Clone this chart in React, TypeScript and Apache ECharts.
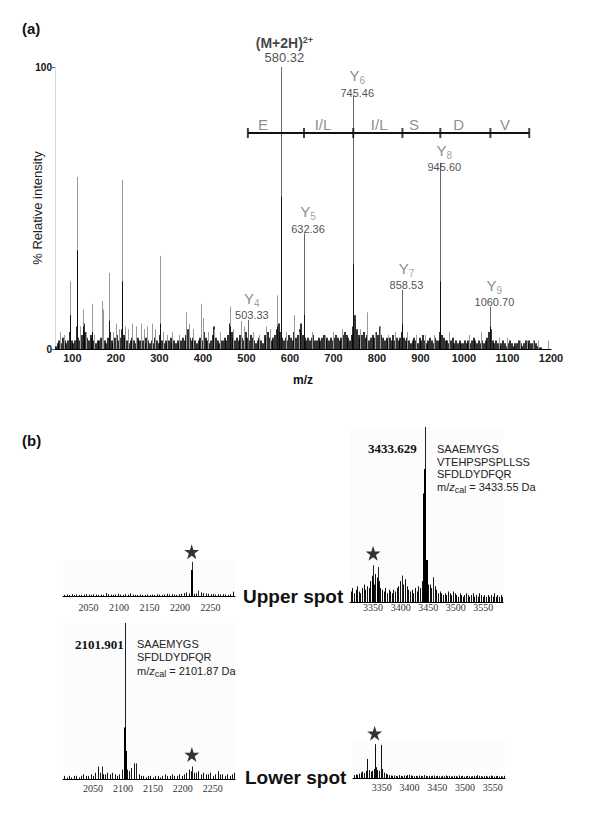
import React, { useEffect, useRef } from "react";
import * as echarts from "echarts";

const SANS = "'Liberation Sans', Arial, Helvetica, sans-serif";
const SERIF = "'Liberation Serif', 'Times New Roman', serif";

// ---------------- Panel (a): MS/MS spectrum ----------------
const aTickLabels = [100, 200, 300, 400, 500, 600, 700, 800, 900, 1000, 1100, 1200];
const precursorMz = 580.32;
const precursorInt = 100;
const yIonNumbers = ["4", "5", "6", "7", "8", "9"];
const yIonMz = [503.33, 632.36, 745.46, 858.53, 945.6, 1060.7];
const yIonInt = [10.3, 41, 89.7, 21, 66, 15];
const yIonLabelGap = [-3, -3, -4, -3, -12, -3];
const ladderBounds = [503.33, 632.36, 745.46, 858.53, 945.6, 1060.7, 1150];
const ladderLevel = 76.6;
const residues = ["E", "I/L", "I/L", "S", "D", "V"];
const residueMz = [538, 676, 805, 885, 988, 1094];

const minorPeaksA: [number, number][] = [
  [72, 6], [80, 5], [94, 24], [110, 61], [118, 8], [125, 14], [131, 6], [144, 16], [150, 5],
  [167, 17], [171, 14], [185, 27], [193, 6], [200, 9], [206, 7], [213, 60], [220, 8], [228, 7],
  [238, 9], [247, 8], [257, 9], [265, 7], [272, 8], [282, 9], [290, 7], [301, 33], [308, 6],
  [318, 5], [330, 6], [345, 5], [362, 13], [368, 9], [378, 7], [395, 16], [401, 11], [412, 6],
  [425, 7], [440, 6], [462, 15], [470, 7], [488, 10], [495, 8], [515, 6], [528, 5], [545, 8],
  [555, 7], [570, 19], [590, 6], [610, 12], [620, 6], [650, 6], [680, 5], [700, 6], [720, 7],
  [760, 7], [777, 13], [795, 6], [807, 8], [825, 5], [841, 6], [870, 6], [890, 5], [910, 5],
  [930, 5], [966, 6], [1011, 5], [1039, 6], [1080, 4], [1100, 4], [1129, 3], [1145, 3],
  [1158, 3], [1170, 3], [1193, 3],
];
const darkCoresA: [number, number][] = [
  [94, 12], [110, 35], [125, 8], [144, 6], [185, 10], [213, 24], [301, 9], [462, 8], [570, 8],
  [580.32, 54], [632.36, 12], [745.46, 30], [858.53, 9], [945.6, 24], [1060.7, 8],
];
const noiseStartA = 62;
const noiseStepA = 4;
const noiseA = [
  1, 2, 3, 2, 4, 3, 2, 3, 6, 3, 2, 3, 8, 4, 3, 5, 9, 6, 4, 3, 5, 4, 3, 2, 3,
  3, 4, 5, 3, 2, 4, 6, 3, 2, 4, 5, 3, 4, 7, 5, 4, 3, 2, 3, 4, 3, 2, 4, 3, 3,
  3, 2, 4, 3, 2, 3, 2, 4, 3, 2, 5, 3, 2, 3, 2, 3, 4, 2, 3, 2, 3, 2, 3, 4, 3,
  5, 7, 4, 3, 4, 3, 2, 3, 4, 3, 6, 4, 3, 2, 3, 5, 8, 4, 3, 2, 3, 3, 4, 3, 5,
  9, 6, 4, 3, 4, 3, 5, 4, 3, 6, 4, 3, 5, 4, 3, 2, 3, 4, 3, 2, 5, 4, 6, 4, 3,
  4, 5, 7, 9, 6, 4, 3, 4, 3, 5, 4, 3, 6, 4, 5, 7, 9, 5, 4, 3, 4, 3, 4, 5, 3,
  3, 4, 3, 4, 5, 3, 4, 3, 4, 3, 4, 5, 4, 3, 4, 5, 6, 5, 4, 3, 5, 8, 12, 7, 5,
  4, 5, 6, 4, 5, 3, 4, 5, 4, 6, 5, 8, 5, 4, 3, 4, 3, 4, 3, 5, 3, 4, 3, 4, 6,
  4, 3, 4, 3, 2, 3, 4, 3, 2, 4, 3, 5, 3, 2, 3, 4, 3, 2, 4, 3, 3, 6, 5, 4, 3,
  3, 2, 3, 4, 2, 3, 2, 3, 2, 2, 3, 2, 3, 2, 3, 4, 3, 2, 3, 2, 3, 2, 3, 4, 6,
  7, 3, 2, 3, 2, 1, 2, 3, 2, 1, 2, 3, 2, 1, 2, 2, 3, 2, 1, 2, 3, 2, 3, 2, 2,
  3, 2, 1, 0.5, 0.5,
];

// ---------------- Panel (b): MALDI spectra ----------------
// Upper spot, low mass window
const ulTicks = [2050, 2100, 2150, 2200, 2250];
const ulPeaks: [number, number][] = [[2219, 95], [2230, 14]];
const ulCore: [number, number][] = [[2219, 72]];
const ulStar: [number, number] = [2219, 95];
const ulNoiseStart = 2010;
const ulNoiseStep = 4;
const ulNoise = [
  3, 4, 3, 5, 3, 4, 3, 3, 4, 5,
  4, 3, 5, 4, 3, 4, 3, 8, 5, 4,
  3, 4, 6, 4, 3, 5, 4, 7, 4, 3,
  3, 4, 3, 3, 4, 3, 4, 3, 5, 4,
  3, 4, 6, 4, 5, 4, 3, 5, 6, 8,
  10, 7, 8, 6, 7, 15, 10, 8, 7, 6,
  5, 6, 4, 5, 4, 5, 4, 3, 5, 12,
];
// Upper spot, high mass window
const urTicks = [3350, 3400, 3450, 3500, 3550];
const urPeaks: [number, number][] = [[3444, 100], [3350, 21], [3359, 20], [3403, 15], [3459, 14]];
const urCore: [number, number][] = [[3442, 40], [3443, 62], [3444, 76], [3445, 50], [3447, 24], [3350, 12], [3359, 11]];
const urStar: [number, number] = [3350, 21];
const urNoiseStart = 3309;
const urNoiseStep = 3;
const urNoise = [
  6, 8, 5, 7, 9, 6, 5, 8, 10, 7, 9, 8,
  12, 15, 10, 16, 14, 12, 8, 7, 6, 8, 5, 7,
  6, 5, 7, 6, 8, 9, 12, 15, 10, 13, 9, 7,
  6, 7, 5, 8, 6, 9, 8, 12, 12, 15, 12, 10,
  10, 8, 14, 9, 7, 5, 6, 5, 4, 5, 4, 6,
  5, 4, 6, 5, 4, 3, 5, 4, 3, 4, 5, 4,
  3, 4, 5, 3, 4, 3, 5, 4, 3, 4, 3, 4,
  3, 4, 3, 5, 3, 4, 3, 4, 3,
];
// Lower spot, low mass window
const llTicks = [2050, 2100, 2150, 2200, 2250];
const llPeaks: [number, number][] = [[2104, 100], [2122, 10], [2065, 8], [2215, 8]];
const llCore: [number, number][] = [[2104, 33], [2105, 18], [2103, 12]];
const llStar: [number, number] = [2215, 8];
const llNoiseStart = 2002;
const llNoiseStep = 4;
const llNoise = [
  2, 1, 2, 1, 2, 2, 1, 2, 3, 2,
  2, 3, 2, 4, 8, 4, 3, 3, 4, 3,
  4, 3, 2, 3, 6, 12, 6, 5, 7, 10,
  4, 3, 2, 2, 1, 2, 2, 1, 2, 2,
  1, 2, 3, 2, 2, 3, 2, 2, 3, 2,
  3, 4, 6, 5, 4, 4, 5, 3, 4, 3,
  3, 4, 2, 3, 5, 3, 3, 2, 3, 2,
  3, 4,
];
// Lower spot, high mass window
const lrTicks = [3350, 3400, 3450, 3500, 3550];
const lrPeaks: [number, number][] = [[3323, 53], [3337, 94], [3348, 92]];
const lrStar: [number, number] = [3337, 94];
const lrNoiseStart = 3300;
const lrNoiseStep = 3;
const lrNoise = [
  8, 10, 9, 12, 15, 18, 14, 20, 25, 22, 18, 20,
  25, 30, 22, 20, 28, 25, 15, 12, 10, 8, 7, 6,
  7, 6, 5, 8, 6, 5, 7, 6, 8, 9, 7, 6,
  5, 6, 5, 7, 6, 5, 8, 6, 5, 6, 5, 6,
  7, 5, 6, 5, 4, 6, 5, 7, 5, 6, 4, 5,
  6, 5, 4, 7, 5, 6, 4, 5, 6, 5, 4, 5,
  6, 5, 8, 6, 5, 4, 5, 6, 4, 5, 7, 5,
  4, 5, 6, 4, 5, 4, 6,
];

const STAR =
  "path://M50,0 L61.2,34.5 L97.6,34.5 L68.2,55.9 L79.4,90.5 L50,69.1 L20.6,90.5 L31.8,55.9 L2.4,34.5 L38.8,34.5 Z";

const plain = (v: number) => String(v);

function seq(start: number, step: number, vals: number[]): [number, number][] {
  return vals.map((v, i) => [start + i * step, v]);
}

function sticks(idx: number, data: [number, number][], color: string, width: number) {
  return {
    type: "custom",
    xAxisIndex: idx,
    yAxisIndex: idx,
    silent: true,
    data,
    encode: { x: 0, y: 1 },
    renderItem: (_p: any, api: any) => {
      const p0 = api.coord([api.value(0), 0]);
      const p1 = api.coord([api.value(0), api.value(1)]);
      const x = width === 1 ? Math.round(p0[0]) + 0.5 : Math.round(p0[0]);
      return {
        type: "line",
        shape: { x1: x, y1: p0[1], x2: x, y2: p1[1] },
        style: { stroke: color, lineWidth: width },
      };
    },
  };
}

function starSeries(idx: number, pt: [number, number], off: number) {
  return {
    type: "scatter",
    xAxisIndex: idx,
    yAxisIndex: idx,
    clip: false,
    silent: true,
    symbol: STAR,
    symbolSize: 15,
    symbolOffset: [0, off],
    itemStyle: { color: "#000" },
    data: [pt],
  };
}

function bXAxis(idx: number, min: number, max: number, ticks: number[], margin: number) {
  return {
    gridIndex: idx,
    type: "value",
    min,
    max,
    axisLine: { show: true, onZero: false, lineStyle: { color: "#000", width: 1 } },
    axisTick: { show: false },
    splitLine: { show: false },
    axisLabel: {
      customValues: ticks,
      formatter: plain,
      fontFamily: SERIF,
      fontSize: 10,
      color: "#333",
      margin,
    },
  };
}

function bYAxis(idx: number) {
  return { gridIndex: idx, type: "value", min: 0, max: 100, show: false };
}

export default function App() {
  const ref = useRef<HTMLDivElement>(null);
  useEffect(() => {
    if (!ref.current) return;
    const chart = echarts.init(ref.current, null, { renderer: "svg" });

    const ionLabels = yIonMz.map((mz, i) => ({
      value: [mz, yIonInt[i]],
      label: {
        distance: yIonLabelGap[i],
        formatter: `{y|Y}{s|${yIonNumbers[i]}}\n{n|${mz.toFixed(2)}}`,
      },
    }));

    const ladderMid = residueMz.map((mz, i) => ({ value: [mz, ladderLevel], label: { formatter: residues[i] } }));

    const bgGrid = { show: true, backgroundColor: "#fcfcfc", borderWidth: 0 };
    const richMz = {
      a: { font: `11px ${SANS}`, fill: "#222", lineHeight: 14 },
      i: { font: `italic 11px ${SANS}`, fill: "#222", lineHeight: 14 },
      s: { font: `9px ${SANS}`, fill: "#222", lineHeight: 14, verticalAlign: "bottom" },
    };

    const option: any = {
      animation: false,
      backgroundColor: "#fff",
      grid: [
        { left: 55, top: 67, width: 496, height: 282 },
        { left: 63, top: 560, width: 172, height: 36, ...bgGrid },
        { left: 350, top: 427, width: 153, height: 175, ...bgGrid },
        { left: 63, top: 623, width: 172, height: 156, ...bgGrid },
        { left: 353, top: 742, width: 152, height: 36, ...bgGrid },
      ],
      xAxis: [
        {
          gridIndex: 0,
          type: "value",
          min: 60,
          max: 1200,
          axisLine: { show: true, onZero: false, lineStyle: { color: "#000", width: 1 } },
          axisTick: { show: false },
          splitLine: { show: false },
          axisLabel: {
            customValues: aTickLabels,
            formatter: plain,
            fontFamily: SANS,
            fontWeight: "bold",
            fontSize: 11,
            color: "#222",
            margin: 3,
          },
          name: "m/z",
          nameLocation: "middle",
          nameGap: 25,
          nameMoveOverlap: false,
          nameTextStyle: { fontFamily: SANS, fontWeight: "bold", fontSize: 12, color: "#111" },
        },
        bXAxis(1, 2008, 2290, ulTicks, 6),
        bXAxis(2, 3308, 3586, urTicks, 0),
        bXAxis(3, 2000, 2287, llTicks, 4),
        bXAxis(4, 3298, 3572, lrTicks, 4),
      ],
      yAxis: [
        {
          gridIndex: 0,
          type: "value",
          min: 0,
          max: 100,
          interval: 100,
          axisLine: { show: true, lineStyle: { color: "#dadada", width: 1 } },
          axisTick: { show: true, length: 3, lineStyle: { color: "#666" } },
          splitLine: { show: false },
          axisLabel: { fontFamily: SANS, fontWeight: "bold", fontSize: 10, color: "#111", margin: 3 },
          name: "% Relative intensity",
          nameLocation: "middle",
          nameGap: 11,
          nameMoveOverlap: false,
          nameTextStyle: { fontFamily: SANS, fontSize: 13, color: "#222" },
        },
        bYAxis(1),
        bYAxis(2),
        bYAxis(3),
        bYAxis(4),
      ],
      series: [
        // panel (a)
        sticks(0, seq(noiseStartA, noiseStepA, noiseA), "#000", 1.6),
        sticks(0, minorPeaksA, "#9a9a9a", 1),
        sticks(0, yIonMz.map((m, i) => [m, yIonInt[i]] as [number, number]), "#666", 1),
        sticks(0, [[precursorMz, precursorInt]], "#666", 1),
        sticks(0, darkCoresA, "#111", 1),
        {
          type: "line",
          xAxisIndex: 0,
          yAxisIndex: 0,
          silent: true,
          symbol: "none",
          lineStyle: { color: "#111", width: 2 },
          data: [
            [ladderBounds[0], ladderLevel],
            [ladderBounds[ladderBounds.length - 1], ladderLevel],
          ],
        },
        {
          type: "scatter",
          xAxisIndex: 0,
          yAxisIndex: 0,
          silent: true,
          symbol: "rect",
          symbolSize: [2, 10],
          itemStyle: { color: "#111" },
          data: ladderBounds.map((m) => [m, ladderLevel]),
        },
        {
          type: "scatter",
          xAxisIndex: 0,
          yAxisIndex: 0,
          silent: true,
          symbolSize: 1,
          itemStyle: { color: "rgba(0,0,0,0)" },
          label: {
            show: true,
            position: "top",
            distance: 0,
            fontFamily: SANS,
            fontSize: 15,
            color: "#707070",
          },
          data: ladderMid,
        },
        {
          type: "scatter",
          xAxisIndex: 0,
          yAxisIndex: 0,
          silent: true,
          symbolSize: 1,
          itemStyle: { color: "rgba(0,0,0,0)" },
          label: {
            show: true,
            position: "top",
            offset: [4, 0],
            align: "center",
            rich: {
              y: { fontFamily: SANS, fontSize: 15, lineHeight: 20, color: "#6a6a6a" },
              s: { fontFamily: SANS, fontSize: 10, lineHeight: 20, color: "#888", verticalAlign: "bottom" },
              n: { fontFamily: SANS, fontSize: 11, lineHeight: 14, color: "#222" },
            },
          },
          data: ionLabels,
        },
        {
          type: "scatter",
          xAxisIndex: 0,
          yAxisIndex: 0,
          silent: true,
          symbolSize: 1,
          itemStyle: { color: "rgba(0,0,0,0)" },
          label: {
            show: true,
            position: "top",
            distance: 1.5,
            offset: [3, 0],
            formatter: `{b|(M+2H)}{p|2+}\n{n|${precursorMz.toFixed(2)}}`,
            rich: {
              b: { fontFamily: SANS, fontSize: 14, fontWeight: "bold", lineHeight: 15, color: "#111" },
              p: { fontFamily: SANS, fontSize: 9, fontWeight: "bold", lineHeight: 15, verticalAlign: "top", color: "#111" },
              n: { fontFamily: SANS, fontSize: 13, lineHeight: 15, color: "#222" },
            },
          },
          data: [[precursorMz, precursorInt]],
        },
        // panel (b) upper-left
        sticks(1, seq(ulNoiseStart, ulNoiseStep, ulNoise), "#111", 1),
        sticks(1, ulPeaks, "#333", 1),
        sticks(1, ulCore, "#000", 2),
        starSeries(1, ulStar, -10),
        // upper-right
        sticks(2, seq(urNoiseStart, urNoiseStep, urNoise), "#111", 1),
        sticks(2, urPeaks, "#222", 1),
        sticks(2, urCore, "#000", 2),
        starSeries(2, urStar, -12),
        // lower-left
        sticks(3, seq(llNoiseStart, llNoiseStep, llNoise), "#111", 1),
        sticks(3, llPeaks, "#222", 1),
        sticks(3, llCore, "#000", 2),
        starSeries(3, llStar, -12),
        // lower-right
        sticks(4, seq(lrNoiseStart, lrNoiseStep, lrNoise), "#111", 1),
        sticks(4, lrPeaks, "#111", 1),
        starSeries(4, lrStar, -11),
      ],
      graphic: [
        { type: "text", x: 22, y: 28, style: { text: "(a)", font: `bold 15px ${SANS}`, fill: "#111", textVerticalAlign: "middle" } },
        { type: "text", x: 22, y: 440, style: { text: "(b)", font: `bold 15px ${SANS}`, fill: "#111", textVerticalAlign: "middle" } },
        { type: "text", x: 243, y: 596, style: { text: "Upper spot", font: `bold 19px ${SANS}`, fill: "#111", textVerticalAlign: "middle" } },
        { type: "text", x: 245, y: 777, style: { text: "Lower spot", font: `bold 19px ${SANS}`, fill: "#111", textVerticalAlign: "middle" } },
        { type: "text", x: 368, y: 448, style: { text: "3433.629", font: `bold 13px ${SERIF}`, fill: "#111", textVerticalAlign: "middle" } },
        { type: "text", x: 437, y: 449, style: { text: "SAAEMYGS", font: `11px ${SANS}`, fill: "#222", textVerticalAlign: "middle" } },
        { type: "text", x: 437, y: 461.5, style: { text: "VTEHPSPSPLLSS", font: `11px ${SANS}`, fill: "#222", textVerticalAlign: "middle" } },
        { type: "text", x: 437, y: 474, style: { text: "SFDLDYDFQR", font: `11px ${SANS}`, fill: "#222", textVerticalAlign: "middle" } },
        { type: "text", x: 437, y: 480, style: { text: "{a|m/}{i|z}{s|cal}{a| = 3433.55 Da}", rich: richMz } },
        { type: "text", x: 75, y: 644, style: { text: "2101.901", font: `bold 13px ${SERIF}`, fill: "#111", textVerticalAlign: "middle" } },
        { type: "text", x: 137, y: 644, style: { text: "SAAEMYGS", font: `11px ${SANS}`, fill: "#222", textVerticalAlign: "middle" } },
        { type: "text", x: 137, y: 657, style: { text: "SFDLDYDFQR", font: `11px ${SANS}`, fill: "#222", textVerticalAlign: "middle" } },
        { type: "text", x: 137, y: 664, style: { text: "{a|m/}{i|z}{s|cal}{a| = 2101.87 Da}", rich: richMz } },
      ],
    };
    chart.setOption(option);
    return () => chart.dispose();
  }, []);
  return (
    <div
      ref={ref}
      style={{ position: "fixed", left: 0, top: 0, width: 600, height: 820, background: "#fff" }}
    />
  );
}
